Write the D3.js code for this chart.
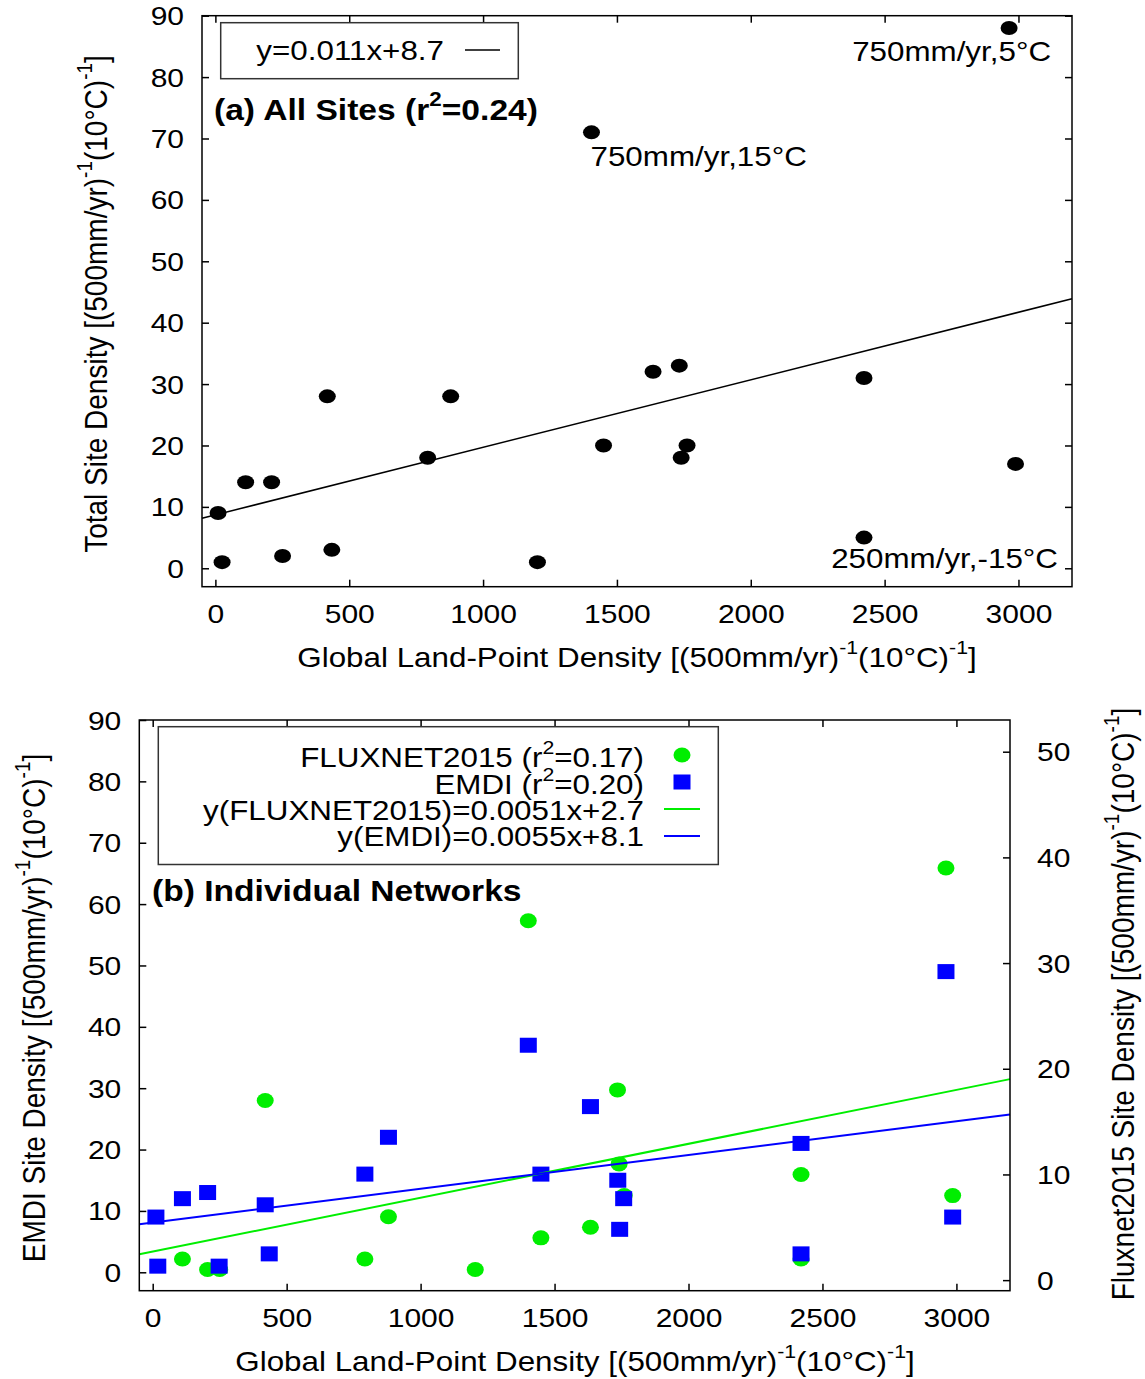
<!DOCTYPE html>
<html lang="en">
<head>
  <meta charset="UTF-8" />
  <title>Site density vs land-point density</title>
  <script src="https://d3js.org/d3.v7.min.js"></script>
  <style>
    body { margin: 0; background: #fff; }
  </style>
</head>
<body>
  <div id="chart"></div>
  <script>
    // ---- data ----
    // panel (a): all sites
    const landX = [10, 25, 113, 210, 251, 418, 435, 793, 879, 1203, 1405, 1450, 1635, 1733, 1740, 1762, 2423, 2423, 2965, 2989];
    const totalSites = [9, 1, 14, 14, 2, 28, 3, 18, 28, 1, 71, 20, 32, 33, 18, 20, 31, 5, 88, 17];

    // panel (b): FLUXNET2015 (right axis) and EMDI (left axis)
    const fluxX = [111, 205, 250, 420, 792, 880, 1204, 1402, 1449, 1634, 1735, 1741, 1760, 2420, 2420, 2961, 2986];
    const fluxSites = [2, 1, 1, 17, 2, 6, 1, 34, 4, 5, 18, 11, 8, 10, 2, 39, 8];
    const emdiX = [12, 19, 111, 205, 248, 420, 435, 792, 880, 1402, 1449, 1634, 1736, 1758, 1743, 2420, 2420, 2961, 2986];
    const emdiSites = [9, 1, 12, 13, 1, 11, 3, 16, 22, 37, 16, 27, 15, 12, 7, 21, 3, 49, 9];

    // fits [slope, intercept]
    const fitAll = [0.011, 8.7];
    const fitFlux = [0.0051, 2.7];
    const fitEmdi = [0.0055, 8.1];

    // axes
    const xDomain = [-50, 3200];
    const yDomain = [-3, 90];
    const yRightDomain = [-1, 53];
    const xTicks = [0, 500, 1000, 1500, 2000, 2500, 3000];
    const yTicks = [0, 10, 20, 30, 40, 50, 60, 70, 80, 90];
    const yRightTicks = [0, 10, 20, 30, 40, 50];

    const annotations = [
      { x: 2965, y: 88, text: "750mm/yr,5\u00b0C" },
      { x: 1405, y: 71, text: "750mm/yr,15\u00b0C" },
      { x: 2423, y: 5, text: "250mm/yr,-15\u00b0C" }
    ];

    const GREEN = "#00ee00", BLUE = "#0000ff";
    const FONT = "'Liberation Sans', Arial, sans-serif";
    const STRETCH = 1.12;
    const TSTRETCH = 1.2;

    const svg = d3.select("#chart").append("svg")
      .attr("width", 1145)
      .attr("height", 1379)
      .style("background", "#fff");

    // text with superscripts, stretched a little horizontally like the original
    function addText(g, x, y, parts, opt) {
      opt = opt || {};
      const size = opt.size || 28;
      const t = g.append("text")
        .attr("transform", opt.rotate
          ? "translate(" + x + "," + y + ") rotate(-90) scale(1," + STRETCH + ")"
          : "translate(" + x + "," + y + ") scale(" + STRETCH + ",1)")
        .attr("font-family", FONT)
        .attr("font-size", size)
        .attr("font-weight", opt.bold ? "bold" : null)
        .attr("text-anchor", opt.anchor || "start")
        .attr("fill", "#000");
      let raised = 0;
      parts.forEach(function (p) {
        if (typeof p === "string") {
          t.append("tspan").attr("dy", raised ? raised : null).text(p);
          raised = 0;
        } else {
          const r = Math.round(size * 0.45);
          t.append("tspan").attr("font-size", Math.round(size * 0.68)).attr("dy", -r).text(p.sup);
          raised = r;
        }
      });
      return t;
    }

    function styleTicks(axisG, dx, dy, anchor) {
      axisG.select(".domain").remove();
      axisG.selectAll("line").attr("stroke", "#000").attr("stroke-width", 1.5);
      axisG.selectAll("text")
        .attr("x", null).attr("y", null).attr("dy", null)
        .attr("text-anchor", anchor)
        .attr("font-family", FONT)
        .attr("font-size", 25)
        .attr("fill", "#000")
        .attr("transform", "translate(" + dx + "," + dy + ") scale(" + TSTRETCH + ",1)");
    }

    const fmt = d3.format("d");
    const density = ["[(500mm/yr)", { sup: "-1" }, "(10\u00b0C)", { sup: "-1" }, "]"];

    // ================= panel (a) =================
    const xA = d3.scaleLinear().domain(xDomain).range([202, 1072]);
    const yA = d3.scaleLinear().domain(yDomain).range([586.7, 15.7]);
    const gA = svg.append("g");

    gA.selectAll("ellipse.site")
      .data(landX.map(function (x, i) { return { x: x, y: totalSites[i] }; }))
      .enter().append("ellipse")
      .attr("class", "site")
      .attr("cx", function (d) { return xA(d.x); })
      .attr("cy", function (d) { return yA(d.y); })
      .attr("rx", 8.5).attr("ry", 7)
      .attr("fill", "#000");

    gA.append("line")
      .attr("x1", xA(xDomain[0])).attr("y1", yA(fitAll[0] * xDomain[0] + fitAll[1]))
      .attr("x2", xA(xDomain[1])).attr("y2", yA(fitAll[0] * xDomain[1] + fitAll[1]))
      .attr("stroke", "#000").attr("stroke-width", 1.5);

    // axes (ticks inward, mirrored)
    styleTicks(gA.append("g").attr("transform", "translate(0,586.7)")
      .call(d3.axisBottom(xA).tickValues(xTicks).tickFormat(fmt).tickSize(-7).tickSizeOuter(0)), 0, 36, "middle");
    styleTicks(gA.append("g").attr("transform", "translate(0,15.7)")
      .call(d3.axisTop(xA).tickValues(xTicks).tickSize(-7).tickSizeOuter(0).tickFormat("")), 0, 0, "middle");
    styleTicks(gA.append("g").attr("transform", "translate(202,0)")
      .call(d3.axisLeft(yA).tickValues(yTicks).tickFormat(fmt).tickSize(-7).tickSizeOuter(0)), -18, 9, "end");
    styleTicks(gA.append("g").attr("transform", "translate(1072,0)")
      .call(d3.axisRight(yA).tickValues(yTicks).tickSize(-7).tickSizeOuter(0).tickFormat("")), 0, 0, "start");

    gA.append("rect")
      .attr("x", 202).attr("y", 15.7).attr("width", 870).attr("height", 571)
      .attr("fill", "none").attr("stroke", "#000").attr("stroke-width", 1.5);

    // legend
    gA.append("rect")
      .attr("x", 220.7).attr("y", 22.7).attr("width", 297.6).attr("height", 56)
      .attr("fill", "#fff").attr("stroke", "#333").attr("stroke-width", 1.5);
    addText(gA, 444, 60, ["y=" + fitAll[0] + "x+" + fitAll[1]], { anchor: "end" });
    gA.append("line").attr("x1", 465).attr("x2", 500).attr("y1", 50).attr("y2", 50)
      .attr("stroke", "#000").attr("stroke-width", 1.5);

    addText(gA, 214, 120, ["(a) All Sites (r", { sup: "2" }, "=0.24)"], { bold: true, size: 30 });

    // point annotations
    addText(gA, xA(annotations[0].x) + 42, yA(annotations[0].y) + 33, [annotations[0].text], { anchor: "end" });
    addText(gA, xA(annotations[1].x) - 1, yA(annotations[1].y) + 34, [annotations[1].text], { anchor: "start" });
    addText(gA, xA(annotations[2].x) + 194, yA(annotations[2].y) + 30, [annotations[2].text], { anchor: "end" });

    addText(gA, 637, 667, ["Global Land-Point Density "].concat(density), { anchor: "middle" });
    addText(gA, 107, 304, ["Total Site Density "].concat(density), { anchor: "middle", rotate: true });

    // ================= panel (b) =================
    const xB = d3.scaleLinear().domain(xDomain).range([139.3, 1010]);
    const yB = d3.scaleLinear().domain(yDomain).range([1290.7, 720]);
    const yR = d3.scaleLinear().domain(yRightDomain).range([1290.7, 720]);
    const gB = svg.append("g");

    gB.selectAll("ellipse.flux")
      .data(fluxX.map(function (x, i) { return { x: x, y: fluxSites[i] }; }))
      .enter().append("ellipse")
      .attr("class", "flux")
      .attr("cx", function (d) { return xB(d.x); })
      .attr("cy", function (d) { return yR(d.y); })
      .attr("rx", 8.5).attr("ry", 7.5)
      .attr("fill", GREEN);

    gB.selectAll("rect.emdi")
      .data(emdiX.map(function (x, i) { return { x: x, y: emdiSites[i] }; }))
      .enter().append("rect")
      .attr("class", "emdi")
      .attr("x", function (d) { return xB(d.x) - 8.5; })
      .attr("y", function (d) { return yB(d.y) - 7.5; })
      .attr("width", 17).attr("height", 15)
      .attr("fill", BLUE);

    gB.append("line")
      .attr("x1", xB(xDomain[0])).attr("y1", yR(fitFlux[0] * xDomain[0] + fitFlux[1]))
      .attr("x2", xB(xDomain[1])).attr("y2", yR(fitFlux[0] * xDomain[1] + fitFlux[1]))
      .attr("stroke", GREEN).attr("stroke-width", 2);
    gB.append("line")
      .attr("x1", xB(xDomain[0])).attr("y1", yB(fitEmdi[0] * xDomain[0] + fitEmdi[1]))
      .attr("x2", xB(xDomain[1])).attr("y2", yB(fitEmdi[0] * xDomain[1] + fitEmdi[1]))
      .attr("stroke", BLUE).attr("stroke-width", 2);

    styleTicks(gB.append("g").attr("transform", "translate(0,1290.7)")
      .call(d3.axisBottom(xB).tickValues(xTicks).tickFormat(fmt).tickSize(-7).tickSizeOuter(0)), 0, 36, "middle");
    styleTicks(gB.append("g").attr("transform", "translate(0,720)")
      .call(d3.axisTop(xB).tickValues(xTicks).tickSize(-7).tickSizeOuter(0).tickFormat("")), 0, 0, "middle");
    styleTicks(gB.append("g").attr("transform", "translate(139.3,0)")
      .call(d3.axisLeft(yB).tickValues(yTicks).tickFormat(fmt).tickSize(-7).tickSizeOuter(0)), -18, 9, "end");
    styleTicks(gB.append("g").attr("transform", "translate(1010,0)")
      .call(d3.axisRight(yR).tickValues(yRightTicks).tickFormat(fmt).tickSize(-7).tickSizeOuter(0)), 27, 9, "start");

    gB.append("rect")
      .attr("x", 139.3).attr("y", 720).attr("width", 870.7).attr("height", 570.7)
      .attr("fill", "none").attr("stroke", "#000").attr("stroke-width", 1.5);

    // legend
    gB.append("rect")
      .attr("x", 158.3).attr("y", 726.7).attr("width", 560).attr("height", 137.8)
      .attr("fill", "#fff").attr("stroke", "#333").attr("stroke-width", 1.5);
    addText(gB, 644, 767, ["FLUXNET2015 (r", { sup: "2" }, "=0.17)"], { anchor: "end" });
    addText(gB, 644, 794, ["EMDI (r", { sup: "2" }, "=0.20)"], { anchor: "end" });
    addText(gB, 644, 820, ["y(FLUXNET2015)=" + fitFlux[0] + "x+" + fitFlux[1]], { anchor: "end" });
    addText(gB, 644, 846, ["y(EMDI)=" + fitEmdi[0] + "x+" + fitEmdi[1]], { anchor: "end" });
    gB.append("ellipse").attr("cx", 682).attr("cy", 755).attr("rx", 8.5).attr("ry", 7.5).attr("fill", GREEN);
    gB.append("rect").attr("x", 682 - 8.5).attr("y", 782 - 7.5).attr("width", 17).attr("height", 15).attr("fill", BLUE);
    gB.append("line").attr("x1", 664).attr("x2", 700).attr("y1", 809).attr("y2", 809)
      .attr("stroke", GREEN).attr("stroke-width", 2);
    gB.append("line").attr("x1", 664).attr("x2", 700).attr("y1", 836).attr("y2", 836)
      .attr("stroke", BLUE).attr("stroke-width", 2);

    addText(gB, 152, 901, ["(b) Individual Networks"], { bold: true, size: 30 });

    addText(gB, 575, 1371, ["Global Land-Point Density "].concat(density), { anchor: "middle" });
    addText(gB, 45, 1008, ["EMDI Site Density "].concat(density), { anchor: "middle", rotate: true });
    addText(gB, 1134, 1004, ["Fluxnet2015 Site Density "].concat(density), { anchor: "middle", rotate: true });
  </script>
</body>
</html>
